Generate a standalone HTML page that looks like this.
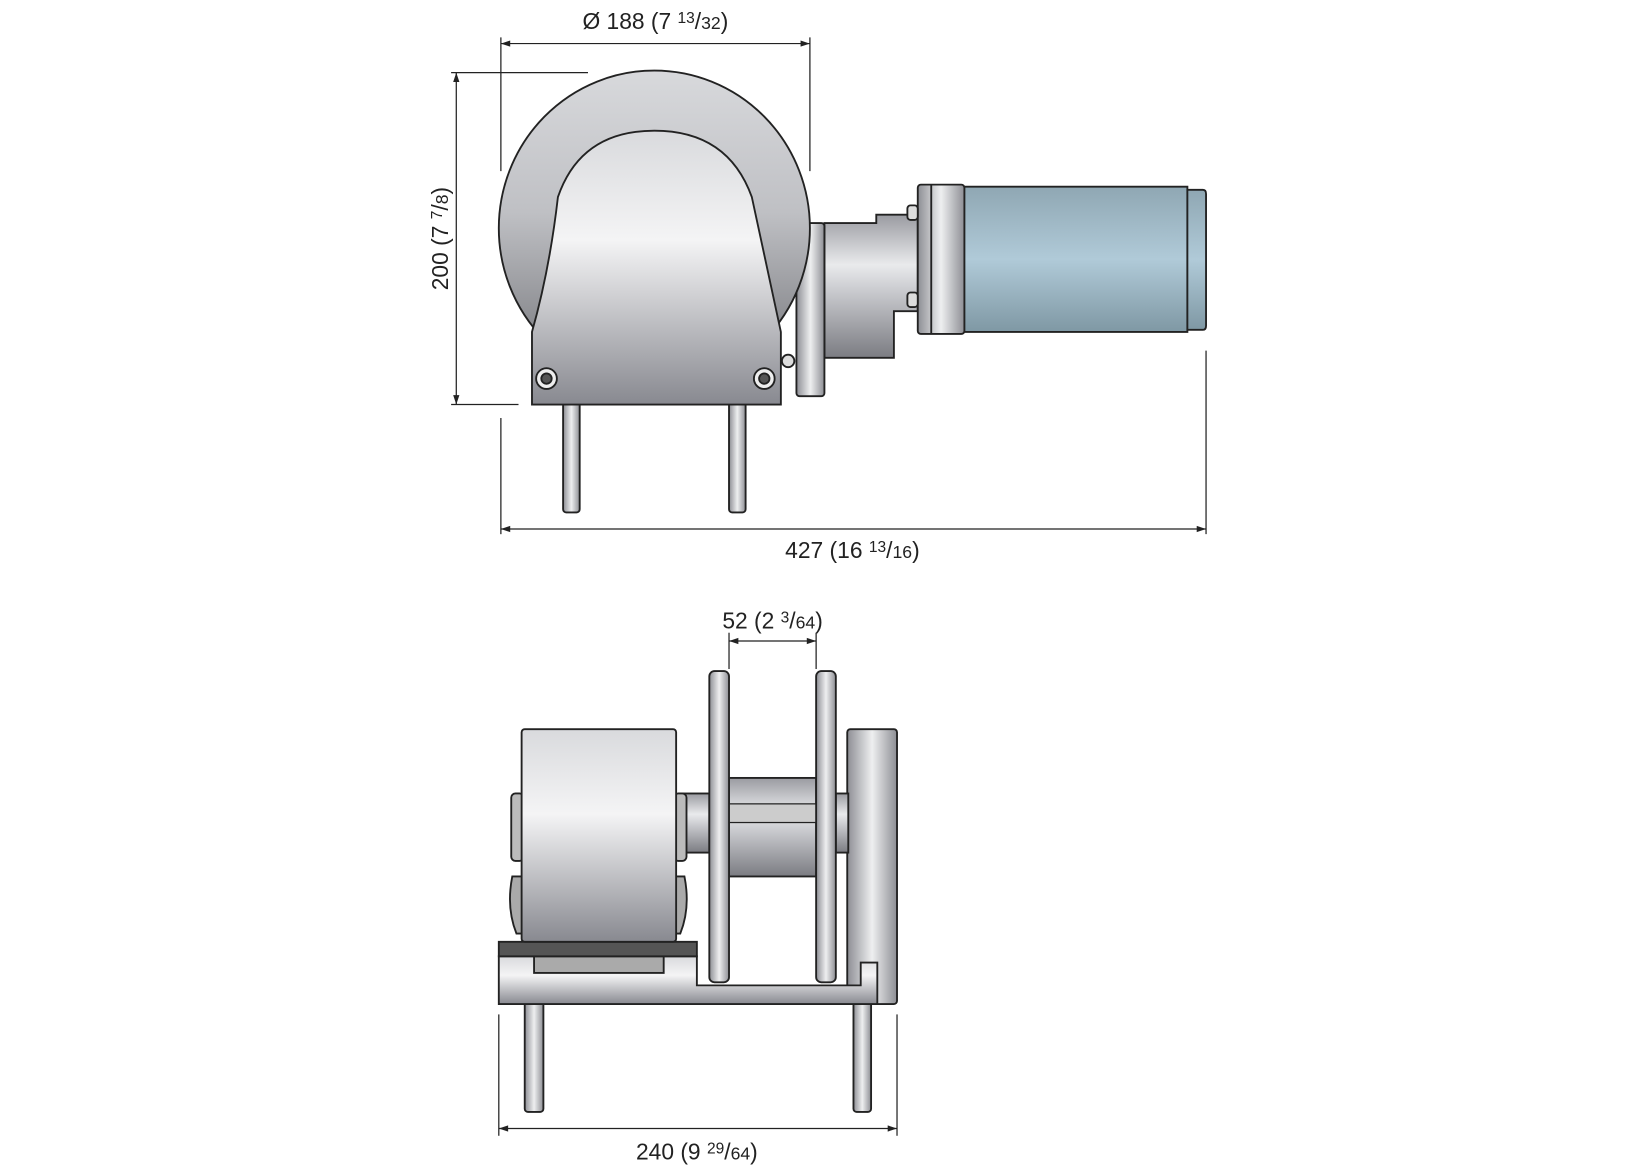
<!DOCTYPE html>
<html><head><meta charset="utf-8"><style>
html,body{margin:0;padding:0;background:#fff;}
svg{display:block}
text{font-family:"Liberation Sans",sans-serif;fill:#222;}
</style></head><body>
<svg width="1625" height="1170" viewBox="0 0 1567 1128" preserveAspectRatio="none" xmlns="http://www.w3.org/2000/svg">
<defs>
<linearGradient id="vg" x1="0" y1="0" x2="0" y2="1">
<stop offset="0" stop-color="#9a9ba1"/><stop offset="0.35" stop-color="#e9eaec"/><stop offset="0.5" stop-color="#cfd0d4"/><stop offset="1" stop-color="#7b7c82"/></linearGradient>
<linearGradient id="vg2" x1="0" y1="0" x2="0" y2="1">
<stop offset="0" stop-color="#d9dadd"/><stop offset="0.4" stop-color="#f4f4f5"/><stop offset="1" stop-color="#888990"/></linearGradient>
<linearGradient id="hg" x1="0" y1="0" x2="1" y2="0">
<stop offset="0" stop-color="#8d8e94"/><stop offset="0.5" stop-color="#eeeff0"/><stop offset="1" stop-color="#8d8e94"/></linearGradient>
<linearGradient id="blue" x1="0" y1="0" x2="0" y2="1">
<stop offset="0" stop-color="#8fa7b3"/><stop offset="0.5" stop-color="#b0cad8"/><stop offset="1" stop-color="#7f98a4"/></linearGradient>
<linearGradient id="big" x1="0" y1="0" x2="0" y2="1">
<stop offset="0" stop-color="#d8d9dc"/><stop offset="0.45" stop-color="#bfc0c4"/><stop offset="1" stop-color="#6f7075"/></linearGradient>
</defs>

<g stroke="#222" stroke-width="1.2" fill="none">
<line x1="483" y1="42" x2="781" y2="42"/>
<line x1="483" y1="36" x2="483" y2="165"/>
<line x1="781" y1="36" x2="781" y2="165"/>
<line x1="440" y1="70" x2="440" y2="390"/>
<line x1="435" y1="70" x2="567" y2="70"/>
<line x1="435" y1="390" x2="500" y2="390"/>
<line x1="483" y1="403" x2="483" y2="515"/>
<line x1="1163" y1="338" x2="1163" y2="515"/>
<line x1="483" y1="510" x2="1163" y2="510"/>
<line x1="703" y1="618" x2="787" y2="618"/>
<line x1="703" y1="610" x2="703" y2="645"/>
<line x1="787" y1="610" x2="787" y2="645"/>
<line x1="481" y1="978" x2="481" y2="1095"/>
<line x1="865" y1="978" x2="865" y2="1095"/>
<line x1="481" y1="1088" x2="865" y2="1088"/>
</g>
<g fill="#222">
<path d="M483 42 l9 -3 v6z M781 42 l-9 -3 v6z"/>
<path d="M440 70 l-3 9 h6z M440 390 l-3 -9 h6z"/>
<path d="M483 510 l9 -3 v6z M1163 510 l-9 -3 v6z"/>
<path d="M703 618 l9 -3 v6z M787 618 l-9 -3 v6z"/>
<path d="M481 1088 l9 -3 v6z M865 1088 l-9 -3 v6z"/>
</g>
<g font-size="22">
<text x="632" y="28" text-anchor="middle">Ø 188 (7 <tspan font-size="15" dy="-6">13</tspan><tspan dy="6">/</tspan><tspan font-size="17">32</tspan>)</text>
<text transform="translate(432,230) rotate(-90)" text-anchor="middle">200 (7 <tspan font-size="15" dy="-6">7</tspan><tspan dy="6">/</tspan><tspan font-size="17">8</tspan>)</text>
<text x="822" y="538" text-anchor="middle">427 (16 <tspan font-size="15" dy="-6">13</tspan><tspan dy="6">/</tspan><tspan font-size="17">16</tspan>)</text>
<text x="745" y="606" text-anchor="middle">52 (2 <tspan font-size="15" dy="-6">3</tspan><tspan dy="6">/</tspan><tspan font-size="17">64</tspan>)</text>
<text x="672" y="1118" text-anchor="middle">240 (9 <tspan font-size="15" dy="-6">29</tspan><tspan dy="6">/</tspan><tspan font-size="17">64</tspan>)</text>
</g>

<g stroke="#222" stroke-width="1.8">
<rect x="543" y="388" width="16" height="106" rx="3" fill="url(#hg)"/>
<rect x="703" y="388" width="16" height="106" rx="3" fill="url(#hg)"/>
<path d="M795 215 H845 V207 H885 V300 H862 V345 H795 Z" fill="url(#vg)"/>
<rect x="768" y="215" width="27" height="167" rx="3" fill="url(#hg)"/>
<circle cx="760" cy="348" r="6" fill="#ddd"/>
<rect x="885" y="178" width="45" height="144" rx="3" fill="url(#hg)"/>
<line x1="898" y1="178" x2="898" y2="322"/>
<rect x="875" y="198" width="10" height="14" rx="3" fill="#ddd"/>
<rect x="875" y="282" width="10" height="14" rx="3" fill="#ddd"/>
<path d="M930 180 H1145 V320 H930 Z" fill="url(#blue)"/>
<path d="M1145 183 H1160 Q1163 183 1163 187 V314 Q1163 318 1160 318 H1145 Z" fill="url(#blue)"/>
<ellipse cx="631" cy="220" rx="150" ry="152" fill="url(#big)"/>
<path d="M513 390 V320 Q530 260 538 190 Q560 126 631 126 Q702 126 725 190 Q740 260 753 320 V390 Z" fill="url(#vg2)"/>
<circle cx="527" cy="365" r="10" fill="#eee"/>
<circle cx="527" cy="365" r="5" fill="#555"/>
<circle cx="737" cy="365" r="10" fill="#eee"/>
<circle cx="737" cy="365" r="5" fill="#555"/>
</g>

<g stroke="#222" stroke-width="1.8">
<rect x="506" y="966" width="18" height="106" rx="3" fill="url(#hg)"/>
<rect x="823" y="966" width="17" height="106" rx="3" fill="url(#hg)"/>
<rect x="817" y="703" width="48" height="265" rx="3" fill="url(#hg)"/>
<path d="M481 922 H672 V950 H830 V928 H846 V968 H481 Z" fill="url(#vg2)"/>
<rect x="515" y="922" width="125" height="16" fill="#aaa"/>
<rect x="481" y="908" width="191" height="14" fill="#555"/>
<rect x="655" y="765" width="29" height="57" fill="url(#vg)"/>
<rect x="806" y="765" width="12" height="57" fill="url(#vg)"/>
<rect x="703" y="750" width="84" height="95" fill="url(#vg)"/>
<rect x="703" y="775" width="84" height="18" fill="#ccc" stroke-width="1.2"/>
<rect x="684" y="647" width="19" height="300" rx="5" fill="url(#hg)"/>
<rect x="787" y="647" width="19" height="300" rx="5" fill="url(#hg)"/>
<rect x="493" y="765" width="12" height="65" rx="4" fill="#bbb"/>
<rect x="650" y="765" width="12" height="65" rx="4" fill="#bbb"/>
<path d="M494 845 Q488 875 498 900 H505 V845 Z" fill="#aaa"/>
<path d="M660 845 Q666 875 656 900 H650 V845 Z" fill="#aaa"/>
<rect x="503" y="703" width="149" height="205" rx="3" fill="url(#vg2)"/>
</g>
</svg>
</body></html>
